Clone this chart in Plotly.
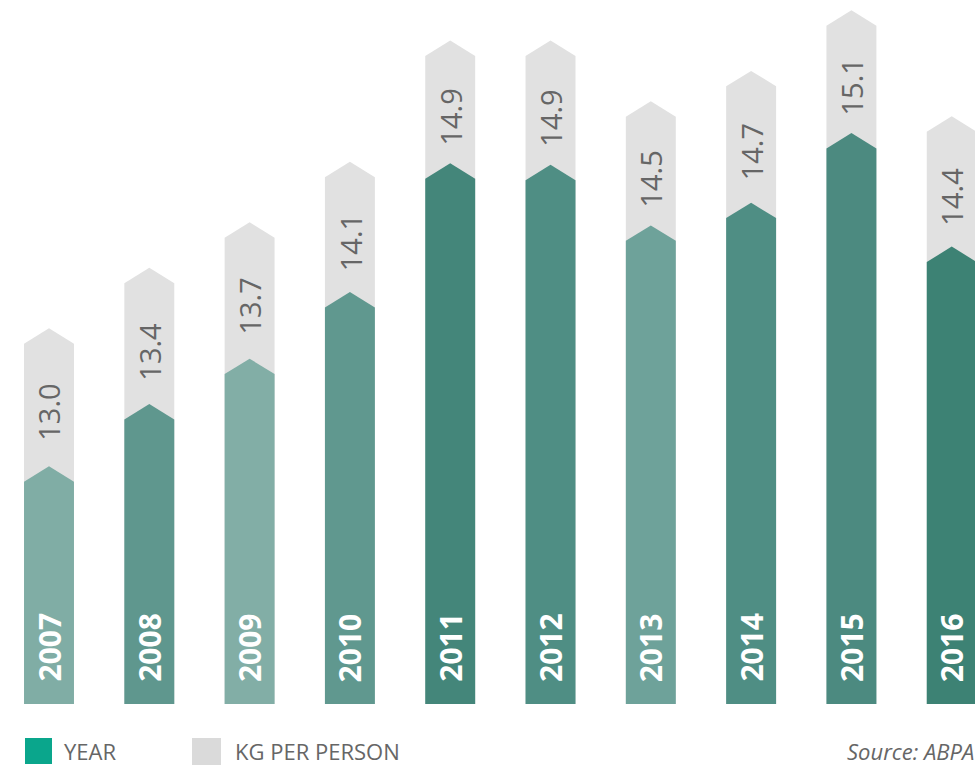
import plotly.graph_objects as go

# ---- data ----
years = ["2007", "2008", "2009", "2010", "2011", "2012", "2013", "2014", "2015", "2016"]
kg_per_person = [13.0, 13.4, 13.7, 14.1, 14.9, 14.9, 14.5, 14.7, 15.1, 14.4]
# level of the teal "year" column top in the same (kg) scale
year_bar_top = [12.09, 12.50, 12.80, 13.24, 14.09, 14.08, 13.68, 13.83, 14.29, 13.54]
year_colors = ["#80ada5", "#5f978e", "#82aea6", "#60988f", "#44867a",
               "#4f8e84", "#6ea29a", "#4f8e84", "#4c8a80", "#3d8274"]

# ---- style ----
GREY = "#e1e1e1"
TEXT_GREY = "#666666"
BASE = 10.52          # axis bottom value
TOP = 15.168          # axis top value
HALF_W = 0.249        # half bar width (category units)
TIP = 0.102           # chevron tip height (value units)
FONT = "Open Sans"

fig = go.Figure()


def chevron(xc, top):
    xs = [xc - HALF_W, xc - HALF_W, xc, xc + HALF_W, xc + HALF_W, xc - HALF_W]
    ys = [BASE, top - TIP, top, top - TIP, BASE, BASE]
    return xs, ys


# grey columns (kg per person)
for i, v in enumerate(kg_per_person):
    xs, ys = chevron(i, v)
    fig.add_trace(go.Scatter(x=xs, y=ys, mode="lines", fill="toself",
                             fillcolor=GREY, line=dict(width=0),
                             hoverinfo="skip", showlegend=False))

# teal columns (year)
for i, t in enumerate(year_bar_top):
    xs, ys = chevron(i, t)
    fig.add_trace(go.Scatter(x=xs, y=ys, mode="lines", fill="toself",
                             fillcolor=year_colors[i], line=dict(width=0),
                             hoverinfo="skip", showlegend=False))

annotations = []
for i, (v, t, yr) in enumerate(zip(kg_per_person, year_bar_top, years)):
    annotations.append(dict(
        x=i, y=(v + t) / 2 - TIP, xref="x", yref="y",
        text=f"{v:.1f}", textangle=-90, showarrow=False,
        xanchor="center", yanchor="middle",
        font=dict(family=FONT, size=29, color=TEXT_GREY)))
    annotations.append(dict(
        x=i, y=BASE, xref="x", yref="y",
        text=f"<b>{yr}</b>", textangle=-90, showarrow=False,
        xanchor="center", yanchor="bottom", yshift=20,
        font=dict(family=FONT, size=30, color="white")))

W, H = 975, 767


def px(x):
    return x / W


def py(y):
    return 1 - y / H


shapes = [
    dict(type="rect", xref="paper", yref="paper",
         x0=px(25), x1=px(52), y0=py(764), y1=py(738),
         fillcolor="#0aa68c", line=dict(width=0)),
    dict(type="rect", xref="paper", yref="paper",
         x0=px(192), x1=px(221), y0=py(765), y1=py(738),
         fillcolor="#dadada", line=dict(width=0)),
]

annotations += [
    dict(x=px(62), y=py(751), xref="paper", yref="paper", text="YEAR",
         showarrow=False, xanchor="left", yanchor="middle",
         font=dict(family=FONT, size=22, color=TEXT_GREY)),
    dict(x=px(233), y=py(751), xref="paper", yref="paper", text="KG PER PERSON",
         showarrow=False, xanchor="left", yanchor="middle",
         font=dict(family=FONT, size=22, color=TEXT_GREY)),
    dict(x=px(976), y=py(751), xref="paper", yref="paper", text="<i>Source: ABPA</i>",
         showarrow=False, xanchor="right", yanchor="middle",
         font=dict(family=FONT, size=22, color=TEXT_GREY)),
]

fig.update_layout(
    width=W, height=H,
    margin=dict(l=0, r=0, t=0, b=0),
    paper_bgcolor="white", plot_bgcolor="white",
    xaxis=dict(range=[-0.4885, 9.232], visible=False, fixedrange=True),
    yaxis=dict(range=[BASE, TOP], domain=[1 - 704 / H, 1], visible=False, fixedrange=True),
    shapes=shapes,
    annotations=annotations,
    showlegend=False,
)

fig.write_html(
    "out.html",
    config={"displayModeBar": False},
    post_script="document.body.style.margin='0';document.body.style.overflow='hidden';",
)
